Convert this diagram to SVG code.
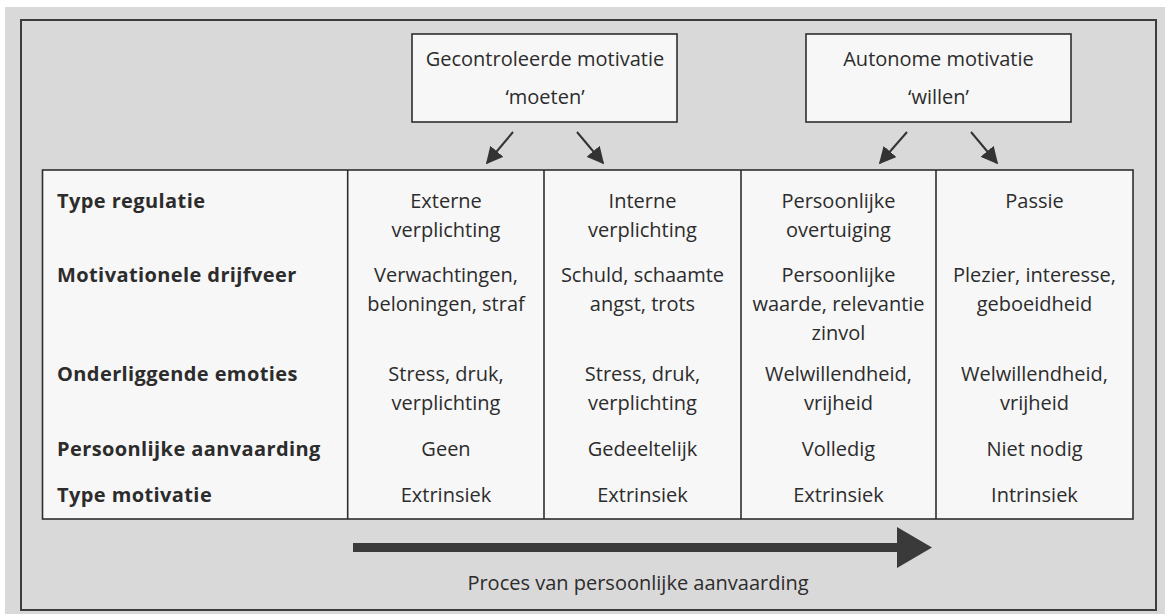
<svg xmlns="http://www.w3.org/2000/svg" width="1165" height="614" viewBox="0 0 1165 614">
<style>
.bg{fill:#d9d9d9}
.frame{fill:#d9d9d9;stroke:#3c3c3c;stroke-width:2}
.box{fill:#f7f7f7;stroke:#2e2e2e;stroke-width:1.6}
.grid{stroke:#2e2e2e;stroke-width:1.6;fill:none}
text{font-family:"Open Sans","Noto Sans","Liberation Sans",sans-serif;font-size:20px;fill:#2c2c2c}
.c{text-anchor:middle}
.b{font-weight:bold;letter-spacing:0.4px}
.conn{stroke:#333;stroke-width:2;fill:none;marker-end:url(#ah)}
</style>
<defs>
<marker id="ah" viewBox="0 0 10 10" refX="9" refY="5" markerWidth="8.5" markerHeight="8.5" orient="auto" markerUnits="strokeWidth">
<path d="M0,0 L10,5 L0,10 z" fill="#333"/>
</marker>
</defs>
<rect width="1165" height="614" fill="#ffffff"/>
<rect class="bg" x="5" y="7" width="1160" height="607"/>
<g id="frame">
<rect class="frame" x="21" y="20" width="1135" height="590"/>
</g>
<g id="controlled">
<rect class="box" x="412" y="34" width="265" height="88"/>
<text class="c" x="545" y="66">Gecontroleerde motivatie</text>
<text class="c" x="545" y="104">‘moeten’</text>
</g>
<g id="autonomous">
<rect class="box" x="806" y="34" width="265" height="88"/>
<text class="c" x="938.5" y="66">Autonome motivatie</text>
<text class="c" x="938.5" y="104">‘willen’</text>
</g>
<g id="connectors">
<line class="conn" x1="513" y1="132" x2="487" y2="163"/>
<line class="conn" x1="577" y1="132" x2="603" y2="163"/>
<line class="conn" x1="907" y1="132" x2="880" y2="163"/>
<line class="conn" x1="971" y1="132" x2="997" y2="163"/>
</g>
<g id="table">
<rect class="box" x="42.5" y="170" width="1090.5" height="349"/>
<line class="grid" x1="347.7" y1="170" x2="347.7" y2="519"/>
<line class="grid" x1="544" y1="170" x2="544" y2="519"/>
<line class="grid" x1="741" y1="170" x2="741" y2="519"/>
<line class="grid" x1="936" y1="170" x2="936" y2="519"/>
</g>
<g id="labels">
<text class="b" x="57" y="208">Type regulatie</text>
<text class="b" x="57" y="282">Motivationele drijfveer</text>
<text class="b" x="57" y="381">Onderliggende emoties</text>
<text class="b" x="57" y="456">Persoonlijke aanvaarding</text>
<text class="b" x="57" y="502">Type motivatie</text>
</g>
<g id="col-extern">
<text class="c" x="446" y="208">Externe</text>
<text class="c" x="446" y="237">verplichting</text>
<text class="c" x="446" y="282">Verwachtingen,</text>
<text class="c" x="446" y="311">beloningen, straf</text>
<text class="c" x="446" y="381">Stress, druk,</text>
<text class="c" x="446" y="410">verplichting</text>
<text class="c" x="446" y="456">Geen</text>
<text class="c" x="446" y="502">Extrinsiek</text>
</g>
<g id="col-intern">
<text class="c" x="642.5" y="208">Interne</text>
<text class="c" x="642.5" y="237">verplichting</text>
<text class="c" x="642.5" y="282">Schuld, schaamte</text>
<text class="c" x="642.5" y="311">angst, trots</text>
<text class="c" x="642.5" y="381">Stress, druk,</text>
<text class="c" x="642.5" y="410">verplichting</text>
<text class="c" x="642.5" y="456">Gedeeltelijk</text>
<text class="c" x="642.5" y="502">Extrinsiek</text>
</g>
<g id="col-overtuiging">
<text class="c" x="838.5" y="208">Persoonlijke</text>
<text class="c" x="838.5" y="237">overtuiging</text>
<text class="c" x="838.5" y="282">Persoonlijke</text>
<text class="c" x="838.5" y="311">waarde, relevantie</text>
<text class="c" x="838.5" y="340">zinvol</text>
<text class="c" x="838.5" y="381">Welwillendheid,</text>
<text class="c" x="838.5" y="410">vrijheid</text>
<text class="c" x="838.5" y="456">Volledig</text>
<text class="c" x="838.5" y="502">Extrinsiek</text>
</g>
<g id="col-passie">
<text class="c" x="1034.5" y="208">Passie</text>
<text class="c" x="1034.5" y="282">Plezier, interesse,</text>
<text class="c" x="1034.5" y="311">geboeidheid</text>
<text class="c" x="1034.5" y="381">Welwillendheid,</text>
<text class="c" x="1034.5" y="410">vrijheid</text>
<text class="c" x="1034.5" y="456">Niet nodig</text>
<text class="c" x="1034.5" y="502">Intrinsiek</text>
</g>
<g id="process">
<path d="M353,543 L897,543 L897,527 L932,547.5 L897,568 L897,552 L353,552 z" fill="#3a3a3a"/>
<text class="c" x="638" y="590">Proces van persoonlijke aanvaarding</text>
</g>
</svg>
